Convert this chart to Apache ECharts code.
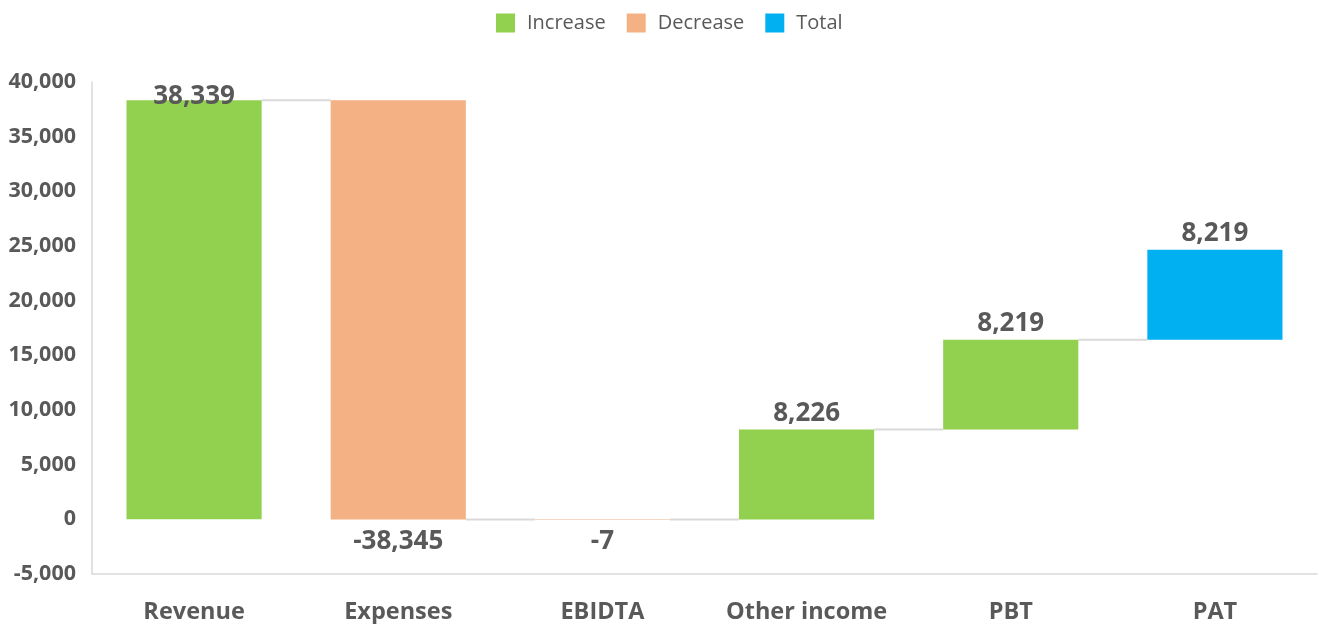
<!DOCTYPE html>
<html>
<head>
<meta charset="utf-8">
<script src="https://cdn.jsdelivr.net/npm/echarts@6/dist/echarts.min.js"></script>
<style>
  html, body { margin: 0; padding: 0; background: #fff; }
  #chart { width: 1323px; height: 624px; }
</style>
</head>
<body>
<div id="chart"></div>
<script>
// 数据
const categories = ['Revenue', 'Expenses', 'EBIDTA', 'Other income', 'PBT', 'PAT']
const changes = [38339, -38345, -7, 8226, 8219, 8219]
const kinds = ['Increase', 'Decrease', 'Decrease', 'Increase', 'Increase', 'Total']
const yTicks = { min: -5000, max: 40000, interval: 5000 }

const colors = { Increase: '#92D050', Decrease: '#F4B183', Total: '#00B0F0' }
const textColor = '#595959'
const fontFamily = '"Open Sans", sans-serif'

// 累计起止
const starts = []
const ends = []
let run = 0
changes.forEach((v) => {
  starts.push(run)
  run += v
  ends.push(run)
})

const fmt = (v) => v.toLocaleString('en-US')
const barRatio = 0.662

const barRender = (params, api) => {
  const idx = api.value(0)
  const start = api.value(1)
  const end = api.value(2)
  const kind = kinds[idx]
  const band = api.size([1, 0])[0]
  const w = band * barRatio
  const p1 = api.coord([idx, Math.max(start, end)])
  const p2 = api.coord([idx, Math.min(start, end)])
  const topY = api.coord([idx, yTicks.max])[1]
  let ty
  if (kind === 'Decrease') {
    ty = p2[1] + 22
  } else {
    ty = Math.max(topY + 15, p1[1] - 16)
  }
  return {
    type: 'group',
    children: [
      {
        type: 'rect',
        shape: { x: p1[0] - w / 2, y: p1[1], width: w, height: Math.max(p2[1] - p1[1], 0.5) },
        style: { fill: colors[kind] }
      },
      {
        type: 'text',
        z2: 10,
        style: {
          x: p1[0],
          y: ty,
          text: fmt(changes[idx]),
          align: 'center',
          verticalAlign: 'middle',
          fill: textColor,
          font: 'bold 26px ' + fontFamily
        }
      }
    ]
  }
}

// 连接线
const lineRender = (params, api) => {
  const idx = api.value(0)
  const level = api.value(1)
  const band = api.size([1, 0])[0]
  const w = band * barRatio
  const a = api.coord([idx, level])
  const b = api.coord([idx + 1, level])
  return {
    type: 'line',
    shape: { x1: a[0] + w / 2, y1: a[1], x2: b[0] - w / 2, y2: b[1] },
    style: { stroke: '#d9d9d9', lineWidth: 2 }
  }
}

const kindSeries = ['Increase', 'Decrease', 'Total'].map((k) => ({
  name: k,
  type: 'custom',
  renderItem: barRender,
  itemStyle: { color: colors[k] },
  encode: { x: 0, y: [1, 2] },
  data: categories
    .map((c, i) => [i, starts[i], ends[i]])
    .filter((d) => kinds[d[0]] === k)
}))

const chart = echarts.init(document.getElementById('chart'))
chart.setOption({
  animation: false,
  legend: {
    top: 8,
    left: 491,
    itemWidth: 19,
    itemHeight: 19,
    itemGap: 21,
    icon: 'rect',
    textStyle: { color: textColor, fontSize: 20, fontFamily: fontFamily, padding: [0, 0, 0, 7] },
    data: ['Increase', 'Decrease', 'Total']
  },
  grid: { left: 92, right: 6, top: 82, bottom: 50 },
  xAxis: {
    type: 'category',
    data: categories,
    axisTick: { show: false },
    axisLine: { onZero: false, lineStyle: { color: '#d9d9d9', width: 1.5 } },
    axisLabel: {
      interval: 0,
      margin: 26,
      color: textColor,
      fontSize: 23.5,
      fontWeight: 'bold',
      fontFamily: fontFamily
    }
  },
  yAxis: {
    type: 'value',
    min: yTicks.min,
    max: yTicks.max,
    interval: yTicks.interval,
    splitLine: { show: false },
    axisTick: { show: false },
    axisLine: { show: true, lineStyle: { color: '#d9d9d9', width: 1.5 } },
    axisLabel: {
      margin: 16,
      color: textColor,
      fontSize: 21.5,
      fontWeight: 'bold',
      fontFamily: fontFamily,
      formatter: (v) => fmt(v)
    }
  },
  series: [
    {
      type: 'custom',
      renderItem: lineRender,
      encode: { x: 0, y: 1 },
      z: 1,
      data: ends.slice(0, -1).map((v, i) => [i, v])
    },
    ...kindSeries
  ]
})
</script>
</body>
</html>
